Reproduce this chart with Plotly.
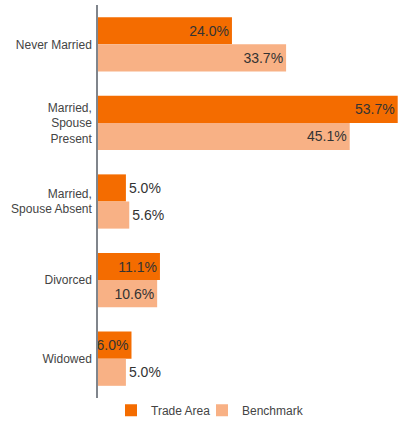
import plotly.graph_objects as go

categories = ["Never Married", "Married,<br>Spouse<br>Present", "Married,<br>Spouse Absent", "Divorced", "Widowed"]
trade_area = [24.0, 53.7, 5.0, 11.1, 6.0]
benchmark = [33.7, 45.1, 5.6, 10.6, 5.0]
ta_pos = ["inside", "inside", "outside", "inside", "inside"]
bm_pos = ["inside", "inside", "outside", "inside", "outside"]

tf = dict(size=14, color="#333333", family="Liberation Sans, Arial")

fig = go.Figure()
fig.add_trace(go.Bar(
    y=categories, x=trade_area, orientation="h", name="Trade Area",
    marker=dict(color="#F46C00", line=dict(width=0)),
    text=[f"{v:.1f}%" for v in trade_area], textposition=ta_pos,
    insidetextanchor="end", constraintext="none", cliponaxis=False,
    textfont=tf, outsidetextfont=tf, insidetextfont=tf,
    legend="legend",
))
fig.add_trace(go.Bar(
    y=categories, x=benchmark, orientation="h", name="Benchmark",
    marker=dict(color="#F8B185", line=dict(width=0)),
    text=[f"{v:.1f}%" for v in benchmark], textposition=bm_pos,
    insidetextanchor="end", constraintext="none", cliponaxis=False,
    textfont=tf, outsidetextfont=tf, insidetextfont=tf,
    legend="legend2",
))

leg_common = dict(orientation="h", xref="container", yref="container",
                  xanchor="left", y=0.028, yanchor="middle",
                  font=dict(size=12, color="#444444"), itemwidth=30,
                  bgcolor="rgba(0,0,0,0)")

fig.update_layout(
    width=398, height=422,
    margin=dict(l=98, r=0, t=5, b=24, autoexpand=False),
    barmode="group", bargap=0.31, bargroupgap=0,
    paper_bgcolor="white", plot_bgcolor="white",
    font=dict(family="Liberation Sans, Arial", size=12, color="#444444"),
    showlegend=True,
    legend=dict(x=111 / 398, **leg_common),
    legend2=dict(x=202 / 398, **leg_common),
    uniformtext=dict(minsize=14, mode="show"),
)
fig.update_xaxes(range=[0, 53.75], visible=False, showgrid=False, zeroline=False)
fig.update_yaxes(autorange="reversed", showline=True, linecolor="#80858c", linewidth=1.5,
                 ticks="", showgrid=False, tickfont=dict(size=12, color="#444444"),
                 ticklabelstandoff=2)

fig.write_html("out.html")
